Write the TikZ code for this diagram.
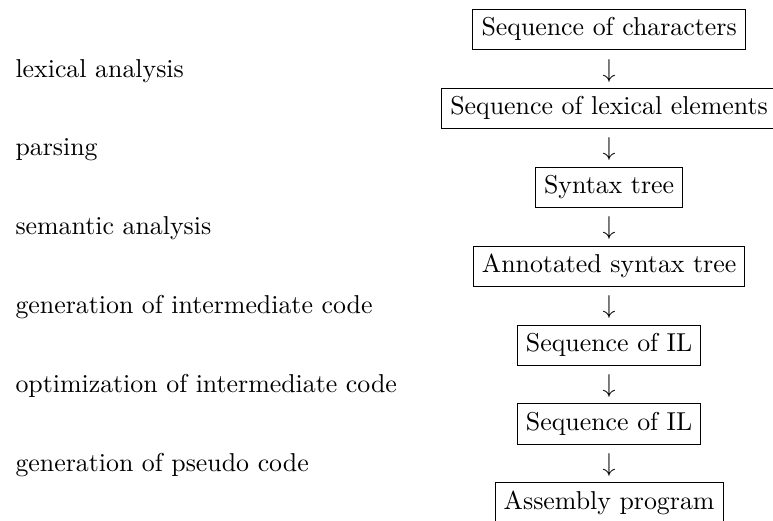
\documentclass[tikz,border=0pt]{standalone}
\begin{document}
\begin{tikzpicture}[x=1pt,y=1pt,
  stage/.style={draw, line width=0.4pt, inner sep=3.333pt,
    text height=6.94pt, text depth=1.94pt},
  phase/.style={anchor=base west, inner sep=0pt},
  flow/.style={anchor=base, inner sep=0pt}]
\clip (0,0) rectangle (299,-201.5);
% stages (boxes)
\node[stage] (s0) at (235.6,-11.41)  {Sequence of characters};
\node[stage] (s1) at (235.6,-41.93)  {Sequence of lexical elements};
\node[stage] (s2) at (235.6,-72.45)  {Syntax tree};
\node[stage] (s3) at (235.6,-102.97) {Annotated syntax tree};
\node[stage] (s4) at (235.6,-133.49) {Sequence of IL};
\node[stage] (s5) at (235.6,-164.01) {Sequence of IL};
\node[stage] (s6) at (235.6,-194.53) {Assembly program};
% arrows between stages
\node[flow] (a1) at (235.6,-29.79)  {$\downarrow$};
\node[flow] (a2) at (235.6,-60.31)  {$\downarrow$};
\node[flow] (a3) at (235.6,-90.83)  {$\downarrow$};
\node[flow] (a4) at (235.6,-121.35) {$\downarrow$};
\node[flow] (a5) at (235.6,-151.87) {$\downarrow$};
\node[flow] (a6) at (235.6,-182.39) {$\downarrow$};
% phase labels
\node[phase] (l1) at (5.8,-29.79)  {lexical analysis};
\node[phase] (l2) at (5.8,-60.31)  {parsing};
\node[phase] (l3) at (5.8,-90.83)  {semantic analysis};
\node[phase] (l4) at (5.8,-121.35) {generation of intermediate code};
\node[phase] (l5) at (5.8,-151.87) {optimization of intermediate code};
\node[phase] (l6) at (5.8,-182.39) {generation of pseudo code};
\end{tikzpicture}
\end{document}
